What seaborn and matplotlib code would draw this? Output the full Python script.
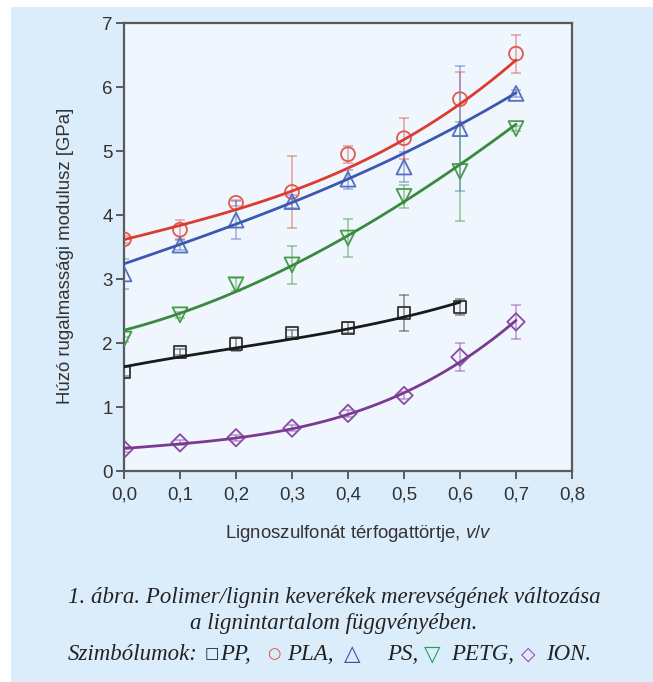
import numpy as np
import pandas as pd
import matplotlib
matplotlib.use("Agg")
import matplotlib.pyplot as plt
from matplotlib.patches import Rectangle
import seaborn as sns

# ---------------- data ----------------
x_frac = [0.0, 0.1, 0.2, 0.3, 0.4, 0.5, 0.6, 0.7]
x_frac_pp = [0.0, 0.1, 0.2, 0.3, 0.4, 0.5, 0.6]

pp_vals = [1.55, 1.86, 1.98, 2.15, 2.24, 2.47, 2.56]
pp_err = [0.07, 0.04, 0.11, 0.05, 0.09, 0.28, 0.13]
pp_fit = [1.63, 1.78, 1.92, 2.07, 2.22, 2.40, 2.64]

pla_vals = [3.62, 3.77, 4.19, 4.36, 4.95, 5.20, 5.81, 6.52]
pla_err = [0.05, 0.15, 0.05, 0.56, 0.13, 0.32, 0.42, 0.30]
pla_fit = [3.64, 3.79, 4.08, 4.39, 4.78, 5.17, 5.68, 6.45]

ps_vals = [3.08, 3.53, 3.92, 4.21, 4.56, 4.75, 5.35, 5.90]
ps_err = [0.24, 0.08, 0.30, 0.10, 0.15, 0.23, 0.98, 0.05]
ps_fit = [3.26, 3.50, 3.84, 4.23, 4.60, 4.94, 5.38, 5.93]

petg_vals = [2.06, 2.44, 2.91, 3.22, 3.64, 4.29, 4.68, 5.35]
petg_err = [0.04, 0.05, 0.10, 0.30, 0.30, 0.18, 0.78, 0.04]
petg_fit = [2.19, 2.49, 2.80, 3.17, 3.71, 4.21, 4.78, 5.42]

ion_vals = [0.34, 0.44, 0.52, 0.67, 0.90, 1.18, 1.78, 2.33]
ion_err = [0.04, 0.04, 0.05, 0.05, 0.06, 0.06, 0.22, 0.26]
ion_fit = [0.35, 0.43, 0.51, 0.65, 0.89, 1.24, 1.68, 2.36]

x_ticks = [0.0, 0.1, 0.2, 0.3, 0.4, 0.5, 0.6, 0.7, 0.8]
x_tick_labels = ["0,0", "0,1", "0,2", "0,3", "0,4", "0,5", "0,6", "0,7", "0,8"]
y_ticks = [0, 1, 2, 3, 4, 5, 6, 7]

# ---------------- style ----------------
sns.set_theme(style="ticks")
plt.rcParams["font.family"] = ["Liberation Sans", "DejaVu Sans"]
plt.rcParams["mathtext.fontset"] = "custom"
plt.rcParams["mathtext.it"] = "Liberation Sans:italic"
plt.rcParams["mathtext.rm"] = "Liberation Sans"

W, H = 653, 682
fig = plt.figure(figsize=(W / 100, H / 100), dpi=100, facecolor="white")

# light-blue panel
panel_col = "#dbecfb"
fig.patches.append(Rectangle((11 / W, 0), 1 - 11 / W, (H - 7) / H,
                             transform=fig.transFigure, facecolor=panel_col,
                             edgecolor="none", zorder=-5))

ax_l, ax_r, ax_t, ax_b = 124, 572, 23, 471
ax = fig.add_axes([ax_l / W, (H - ax_b) / H, (ax_r - ax_l) / W, (ax_b - ax_t) / H])
ax.set_zorder(2)
ax.set_facecolor("#eff6fd")

series = [
    ("PP", x_frac_pp, pp_vals, pp_err, pp_fit, "s", "#1a1a1a", "#333333", 75),
    ("PLA", x_frac, pla_vals, pla_err, pla_fit, "o", "#dc3b2e", "#e0594f", 100),
    ("PS", x_frac, ps_vals, ps_err, ps_fit, "^", "#3c57b0", "#5470c0", 115),
    ("PETG", x_frac, petg_vals, petg_err, petg_fit, "v", "#3a8a3e", "#4a9a4e", 115),
    ("ION", x_frac, ion_vals, ion_err, ion_fit, "D", "#7a3a92", "#8a4aa2", 78),
]

for name, xs, ys, es, fit, mk, lc, mc, size in series:
    ax.errorbar(xs, ys, yerr=es, fmt="none", ecolor=mc, alpha=0.55,
                elinewidth=1.1, capsize=3.5, capthick=1.1, zorder=2)
    sns.regplot(x=np.array(xs), y=np.array(fit), order=3, ci=None, scatter=False,
                truncate=True, ax=ax, color=lc, line_kws=dict(lw=2.0, zorder=4))
    sns.scatterplot(x=xs, y=ys, marker=mk, s=size, facecolor="none",
                    edgecolor=mc, linewidth=1.3, ax=ax, zorder=3)

ax.set_xlim(0, 0.8)
ax.set_ylim(0, 7)
ax.set_xticks(x_ticks)
ax.set_xticklabels(x_tick_labels)
ax.set_yticks(y_ticks)
ax.set_xlabel("")
ax.set_ylabel("")
for sp in ax.spines.values():
    sp.set_visible(True)
    sp.set_color("#5a5a5a")
    sp.set_linewidth(1.6)
ax.tick_params(direction="out", length=6, width=1.4, color="#5a5a5a",
               labelcolor="#333333", labelsize=13.5)
ax.tick_params(axis="x", pad=5)
ax.tick_params(axis="y", pad=2)

def fx(px):
    return px / W

def fy(py):
    return 1 - py / H

fig.text(fx(66), fy(256), "Húzó rugalmassági modulusz [GPa]", rotation=90,
         ha="center", va="center", fontsize=13.4, color="#333333")
fig.text(fx(358), fy(533), r"Lignoszulfonát térfogattörtje, $\mathit{v/v}$",
         ha="center", va="center", fontsize=13.4, color="#333333")

cap_font = ["Liberation Serif", "DejaVu Sans"]
cap_col = "#222222"
cap_size = 16.5
fig.text(fx(334), fy(597), "1. ábra. Polimer/lignin keverékek merevségének változása",
         ha="center", va="center", fontsize=cap_size, style="italic",
         family=cap_font, color=cap_col)
fig.text(fx(334), fy(623), "a lignintartalom függvényében.",
         ha="center", va="center", fontsize=cap_size, style="italic",
         family=cap_font, color=cap_col)

line3 = [
    (68, "Szimbólumok:", cap_col, "text", cap_size),
    (205, "□", "#222222", "sym", 11),
    (220, "PP,", cap_col, "text", cap_size),
    (267, "○", "#e0443a", "sym", 11),
    (287, "PLA,", cap_col, "text", cap_size),
    (344, "△", "#3c4fa8", "sym", 15.5),
    (387, "PS,", cap_col, "text", cap_size),
    (424, "▽", "#22a050", "sym", 15.5),
    (451, "PETG,", cap_col, "text", cap_size),
    (521, "◇", "#9a3aa8", "sym", 13.5),
    (546, "ION.", cap_col, "text", cap_size),
]
for px, s, c, kind, fs in line3:
    if kind == "text":
        fig.text(fx(px), fy(655), s, ha="left", va="center", fontsize=fs,
                 style="italic", family=cap_font, color=c)
    else:
        fig.text(fx(px), fy(654), s, ha="left", va="center", fontsize=fs,
                 family=["DejaVu Sans"], color=c)

fig.savefig("out.png", dpi=100, facecolor="white")
